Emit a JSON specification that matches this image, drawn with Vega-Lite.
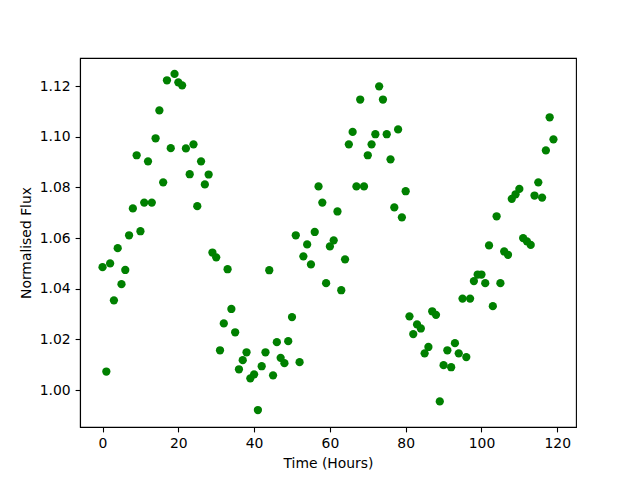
{
  "$schema": "https://vega.github.io/schema/vega-lite/v6.json",
  "width": 496,
  "height": 369,
  "autosize": {"type": "none"},
  "padding": {"left": 80, "top": 58, "right": 64, "bottom": 53},
  "background": "white",
  "config": {
    "view": {"stroke": "black", "strokeWidth": 1.1},
    "font": "DejaVu Sans",
    "axis": {
      "grid": false,
      "domainColor": "black",
      "domainWidth": 1.1,
      "tickColor": "black",
      "tickWidth": 1.1,
      "tickSize": 4.9,
      "labelFont": "DejaVu Sans",
      "labelFontSize": 13.9,
      "labelColor": "black",
      "labelPadding": 4.9,
      "titleFont": "DejaVu Sans",
      "titleFontSize": 13.9,
      "titleFontWeight": "normal",
      "titleColor": "black",
      "titlePadding": 5.6
    }
  },
  "data": {
    "values": [
      {"t": 0, "flux": 1.0485}, {"t": 1, "flux": 1.0073}, {"t": 2, "flux": 1.0500}, {"t": 3, "flux": 1.0354},
      {"t": 4, "flux": 1.0560}, {"t": 5, "flux": 1.0418}, {"t": 6, "flux": 1.0474}, {"t": 7, "flux": 1.0611},
      {"t": 8, "flux": 1.0717}, {"t": 9, "flux": 1.0927}, {"t": 10, "flux": 1.0627}, {"t": 11, "flux": 1.0740},
      {"t": 12, "flux": 1.0903}, {"t": 13, "flux": 1.0740}, {"t": 14, "flux": 1.0994}, {"t": 15, "flux": 1.1104},
      {"t": 16, "flux": 1.0820}, {"t": 17, "flux": 1.1223}, {"t": 18, "flux": 1.0955}, {"t": 19, "flux": 1.1248},
      {"t": 20, "flux": 1.1215}, {"t": 21, "flux": 1.1203}, {"t": 22, "flux": 1.0954}, {"t": 23, "flux": 1.0852},
      {"t": 24, "flux": 1.0970}, {"t": 25, "flux": 1.0726}, {"t": 26, "flux": 1.0903}, {"t": 27, "flux": 1.0812},
      {"t": 28, "flux": 1.0851}, {"t": 29, "flux": 1.0543}, {"t": 30, "flux": 1.0524}, {"t": 31, "flux": 1.0157},
      {"t": 32, "flux": 1.0263}, {"t": 33, "flux": 1.0477}, {"t": 34, "flux": 1.0320}, {"t": 35, "flux": 1.0228},
      {"t": 36, "flux": 1.0082}, {"t": 37, "flux": 1.0118}, {"t": 38, "flux": 1.0149}, {"t": 39, "flux": 1.0046},
      {"t": 40, "flux": 1.0062}, {"t": 41, "flux": 0.9921}, {"t": 42, "flux": 1.0094}, {"t": 43, "flux": 1.0149},
      {"t": 44, "flux": 1.0473}, {"t": 45, "flux": 1.0058}, {"t": 46, "flux": 1.0189}, {"t": 47, "flux": 1.0127},
      {"t": 48, "flux": 1.0106}, {"t": 49, "flux": 1.0193}, {"t": 50, "flux": 1.0288}, {"t": 51, "flux": 1.0611},
      {"t": 52, "flux": 1.0110}, {"t": 53, "flux": 1.0528}, {"t": 54, "flux": 1.0575}, {"t": 55, "flux": 1.0496},
      {"t": 56, "flux": 1.0624}, {"t": 57, "flux": 1.0804}, {"t": 58, "flux": 1.0740}, {"t": 59, "flux": 1.0422},
      {"t": 60, "flux": 1.0567}, {"t": 61, "flux": 1.0591}, {"t": 62, "flux": 1.0705}, {"t": 63, "flux": 1.0394},
      {"t": 64, "flux": 1.0516}, {"t": 65, "flux": 1.0970}, {"t": 66, "flux": 1.1019}, {"t": 67, "flux": 1.0804},
      {"t": 68, "flux": 1.1147}, {"t": 69, "flux": 1.0804}, {"t": 70, "flux": 1.0927}, {"t": 71, "flux": 1.0970},
      {"t": 72, "flux": 1.1010}, {"t": 73, "flux": 1.1199}, {"t": 74, "flux": 1.1147}, {"t": 75, "flux": 1.1010},
      {"t": 76, "flux": 1.0911}, {"t": 77, "flux": 1.0721}, {"t": 78, "flux": 1.1029}, {"t": 79, "flux": 1.0682},
      {"t": 80, "flux": 1.0785}, {"t": 81, "flux": 1.0291}, {"t": 82, "flux": 1.0221}, {"t": 83, "flux": 1.0259},
      {"t": 84, "flux": 1.0243}, {"t": 85, "flux": 1.0145}, {"t": 86, "flux": 1.0170}, {"t": 87, "flux": 1.0311},
      {"t": 88, "flux": 1.0297}, {"t": 89, "flux": 0.9955}, {"t": 90, "flux": 1.0098}, {"t": 91, "flux": 1.0157},
      {"t": 92, "flux": 1.0090}, {"t": 93, "flux": 1.0185}, {"t": 94, "flux": 1.0145}, {"t": 95, "flux": 1.0361},
      {"t": 96, "flux": 1.0130}, {"t": 97, "flux": 1.0361}, {"t": 98, "flux": 1.0430}, {"t": 99, "flux": 1.0456},
      {"t": 100, "flux": 1.0456}, {"t": 101, "flux": 1.0422}, {"t": 102, "flux": 1.0571}, {"t": 103, "flux": 1.0331},
      {"t": 104, "flux": 1.0686}, {"t": 105, "flux": 1.0422}, {"t": 106, "flux": 1.0547}, {"t": 107, "flux": 1.0534},
      {"t": 108, "flux": 1.0755}, {"t": 109, "flux": 1.0773}, {"t": 110, "flux": 1.0794}, {"t": 111, "flux": 1.0600},
      {"t": 112, "flux": 1.0587}, {"t": 113, "flux": 1.0573}, {"t": 114, "flux": 1.0768}, {"t": 115, "flux": 1.0820},
      {"t": 116, "flux": 1.0760}, {"t": 117, "flux": 1.0946}, {"t": 118, "flux": 1.1077}, {"t": 119, "flux": 1.0990}
    ]
  },
  "mark": {"type": "point", "filled": true, "shape": "circle", "size": 68, "color": "#008000", "opacity": 1},
  "encoding": {
    "x": {
      "field": "t",
      "type": "quantitative",
      "title": "Time (Hours)",
      "scale": {"domain": [-5.95, 124.95], "nice": false, "zero": false},
      "axis": {"values": [0, 20, 40, 60, 80, 100, 120], "format": "d"}
    },
    "y": {
      "field": "flux",
      "type": "quantitative",
      "title": "Normalised Flux",
      "scale": {"domain": [0.9854, 1.1311], "nice": false, "zero": false},
      "axis": {"values": [1.0, 1.02, 1.04, 1.06, 1.08, 1.1, 1.12], "format": ".2f"}
    }
  }
}
